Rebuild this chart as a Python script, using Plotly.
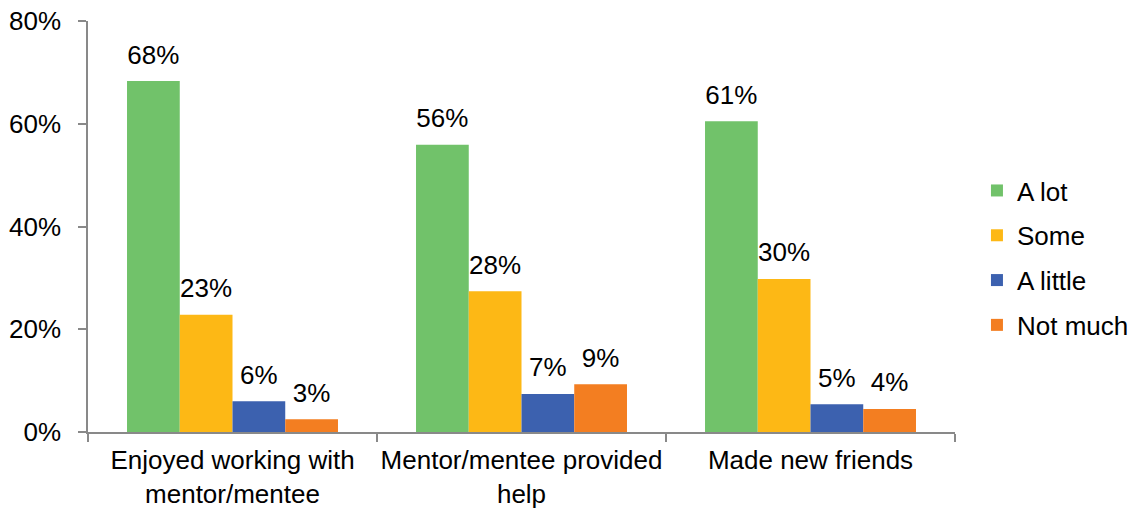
import plotly.graph_objects as go

categories = ["Enjoyed working with<br>mentor/mentee", "Mentor/mentee provided<br>help", "Made new friends"]
series_names = ["A lot", "Some", "A little", "Not much"]
a_lot = [68.3, 55.9, 60.5]
some = [22.8, 27.4, 29.8]
a_little = [6.0, 7.4, 5.4]
not_much = [2.5, 9.3, 4.5]
labels_a_lot = ["68%", "56%", "61%"]
labels_some = ["23%", "28%", "30%"]
labels_a_little = ["6%", "7%", "5%"]
labels_not_much = ["3%", "9%", "4%"]
colors = ["#71C26A", "#FDB815", "#3C61AF", "#F37E21"]

series = [a_lot, some, a_little, not_much]
labels = [labels_a_lot, labels_some, labels_a_little, labels_not_much]

FONT = "Liberation Sans, Arial, sans-serif"
FS = 26

fig = go.Figure()
for i, (name, vals) in enumerate(zip(series_names, series)):
    fig.add_trace(go.Bar(
        x=categories, y=vals, name=name,
        marker=dict(color=colors[i], line=dict(width=0)),
        offsetgroup=name, legendgroup=name, hoverinfo="skip",
    ))
for i, (name, vals, txt) in enumerate(zip(series_names, series, labels)):
    fig.add_trace(go.Scatter(
        x=categories, y=vals, text=txt, mode="markers+text",
        textposition="top center", cliponaxis=False,
        marker=dict(size=16, color="rgba(0,0,0,0)"),
        textfont=dict(size=FS, color="#000000", family=FONT),
        offsetgroup=name, showlegend=False, hoverinfo="skip",
    ))

fig.update_layout(
    width=1136, height=508,
    margin=dict(l=88, r=181, t=21, b=76),
    paper_bgcolor="white", plot_bgcolor="white",
    barmode="group", bargap=0.27, bargroupgap=0,
    scattermode="group", scattergap=0.27,
    font=dict(family=FONT, size=FS, color="#000000"),
    legend=dict(xref="container", yref="container",
                x=0.860, xanchor="left", y=0.492, yanchor="middle",
                traceorder="grouped", tracegroupgap=8, itemwidth=30,
                font=dict(size=FS, family=FONT, color="#000000")),
    showlegend=True,
)
fig.update_xaxes(
    showline=True, linecolor="#898989", linewidth=1.5, automargin=False,
    ticks="outside", tickson="boundaries", ticklen=8, tickcolor="#898989", tickwidth=1.5,
    showgrid=False, tickangle=0, ticklabelstandoff=4,
    tickfont=dict(size=FS, family=FONT, color="#000000"),
)
fig.update_yaxes(
    range=[0, 80], dtick=20, ticksuffix="%", automargin=False,
    showline=True, linecolor="#898989", linewidth=1.5,
    ticks="outside", ticklen=8, tickcolor="#898989", tickwidth=1.5,
    showgrid=False, zeroline=False, ticklabelstandoff=12,
    ticklabeloverflow="allow",
    tickfont=dict(size=FS, family=FONT, color="#000000"),
)

fig.write_html("out.html", config={"displayModeBar": False},
               post_script="document.body.style.margin='0';")
